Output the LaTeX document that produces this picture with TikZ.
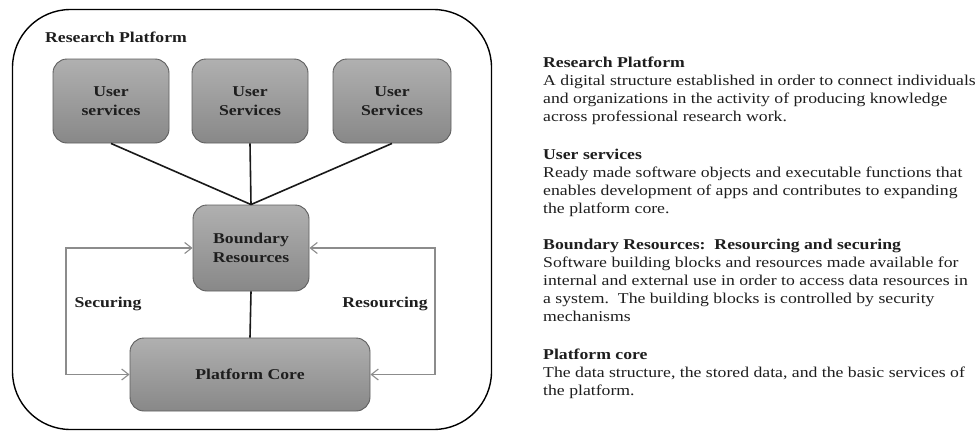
\documentclass[tikz,border=0pt]{standalone}
\usepackage{fontspec}
\setmainfont[FakeStretch=1.18]{Liberation Serif}
\usetikzlibrary{arrows.meta}
\definecolor{boxtop}{HTML}{B0B0B0}
\definecolor{boxbot}{HTML}{888888}
\definecolor{boxline}{HTML}{5E5E5E}
\definecolor{loopgray}{HTML}{8C8C8C}
\definecolor{txt}{HTML}{1E1E1E}
\tikzset{
  svc/.style={draw=boxline, line width=0.9pt, rounded corners=14pt, top color=boxtop, bottom color=boxbot,
    minimum width=116pt, minimum height=84pt, align=center, inner sep=0pt,
    font=\fontsize{15}{19}\selectfont\bfseries, text=txt},
  link/.style={line width=1.6pt, draw=black!90},
  loop/.style={line width=1.1pt, draw=loopgray, {Straight Barb[length=7pt,width=11pt]}-{Straight Barb[length=7pt,width=11pt]}},
  lab/.style={font=\fontsize{15}{18}\selectfont\bfseries, text=txt, inner sep=0pt},
  para/.style={font=\fontsize{15}{18}\selectfont, text=txt, align=left, anchor=north west, inner sep=0pt}
}
\begin{document}
\begin{tikzpicture}[x=1pt,y=-1pt]
\useasboundingbox (0,0) rectangle (979,431);
\fill[white] (0,0) rectangle (979,431);
\node[draw=black, line width=1.4pt, rounded corners=58pt, minimum width=479pt, minimum height=420pt, inner sep=0pt] (outer) at (252,219.5) {};
\node[lab, anchor=west] (title) at (45,37) {Research Platform};
\node[svc] (us1) at (111,101) {User\\services};
\node[svc] (us2) at (250,101) {User\\Services};
\node[svc, minimum width=118pt] (us3) at (392,101) {User\\Services};
\node[svc, minimum height=86pt] (br) at (251,248) {Boundary\\Resources};
\node[svc, minimum width=240pt, minimum height=73pt] (pc) at (250,374.5) {Platform Core};
\draw[link] (us1.south) -- (br.north);
\draw[link] (us2.south) -- (br.north);
\draw[link] (us3.south) -- (br.north);
\draw[link] (br.south) -- (pc.north);
\coordinate (sl) at (66,248);
\coordinate (sr) at (435,248);
\draw[loop] (br.west) -- (sl) |- (pc.west);
\draw[loop] (br.east) -- (sr) |- (pc.east);
\node[lab] (sec) at (108,304) {Securing};
\node[lab] (res) at (385,304) {Resourcing};
\node[para] (p1) at (543,57) {\textbf{Research Platform}\\A digital structure established in order to connect individuals\\and organizations in the activity of producing knowledge\\across professional research work.};
\node[para] (p2) at (543,149) {\textbf{User services}\\Ready made software objects and executable functions that\\enables development of apps and contributes to expanding\\the platform core.};
\node[para] (p3) at (543,239) {\textbf{Boundary Resources:\ \ Resourcing and securing}\\Software building blocks and resources made available for\\internal and external use in order to access data resources in\\a system.\ \ The building blocks is controlled by security\\mechanisms};
\node[para] (p4) at (543,349) {\textbf{Platform core}\\The data structure, the stored data, and the basic services of\\the platform.};
\end{tikzpicture}
\end{document}
